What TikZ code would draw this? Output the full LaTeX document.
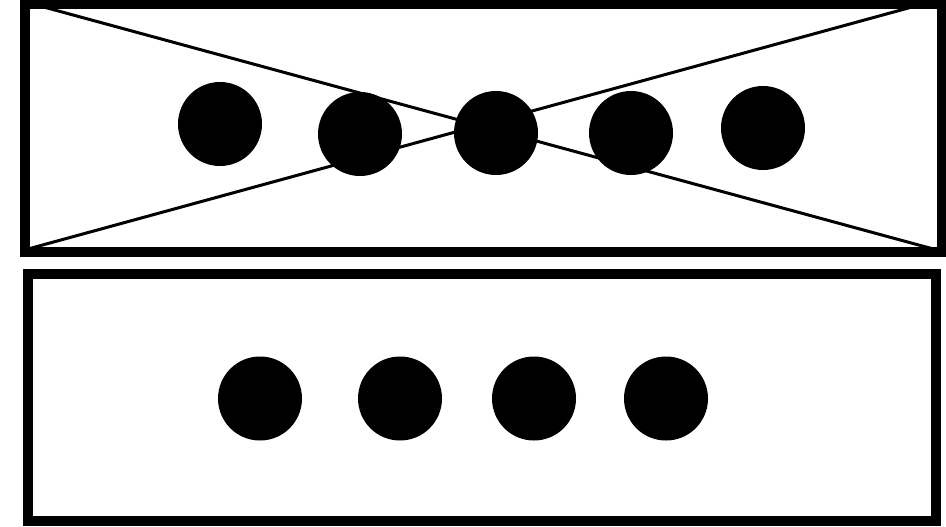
\documentclass[tikz,border=0pt]{standalone}
\begin{document}
\begin{tikzpicture}[x=1pt,y=-1pt,
  frame/.style={draw=black,line width=10pt,minimum width=#1,inner sep=0pt},
  dot/.style={circle,fill=black,minimum size=84pt,inner sep=0pt},
  diag/.style={line width=3pt}]
\useasboundingbox (0,0) rectangle (946,527);
\node[frame=917pt,minimum height=247.5pt] (top) at (483.5,128.25) {};
\node[frame=908pt,minimum height=246.5pt] (bot) at (482,397.25) {};
\coordinate (a) at (40,6);
\coordinate (b) at (937,250);
\coordinate (c) at (28,249);
\coordinate (d) at (912,7);
\draw[diag] (a) -- (b);
\draw[diag] (c) -- (d);
\node[dot] (t1) at (220,124) {};
\node[dot] (t2) at (360,134) {};
\node[dot] (t3) at (496,133) {};
\node[dot] (t4) at (631,133) {};
\node[dot] (t5) at (763,128) {};
\node[dot] (b1) at (260,398.5) {};
\node[dot] (b2) at (400,398.5) {};
\node[dot] (b3) at (534,398.5) {};
\node[dot] (b4) at (666,398.5) {};
\end{tikzpicture}
\end{document}
